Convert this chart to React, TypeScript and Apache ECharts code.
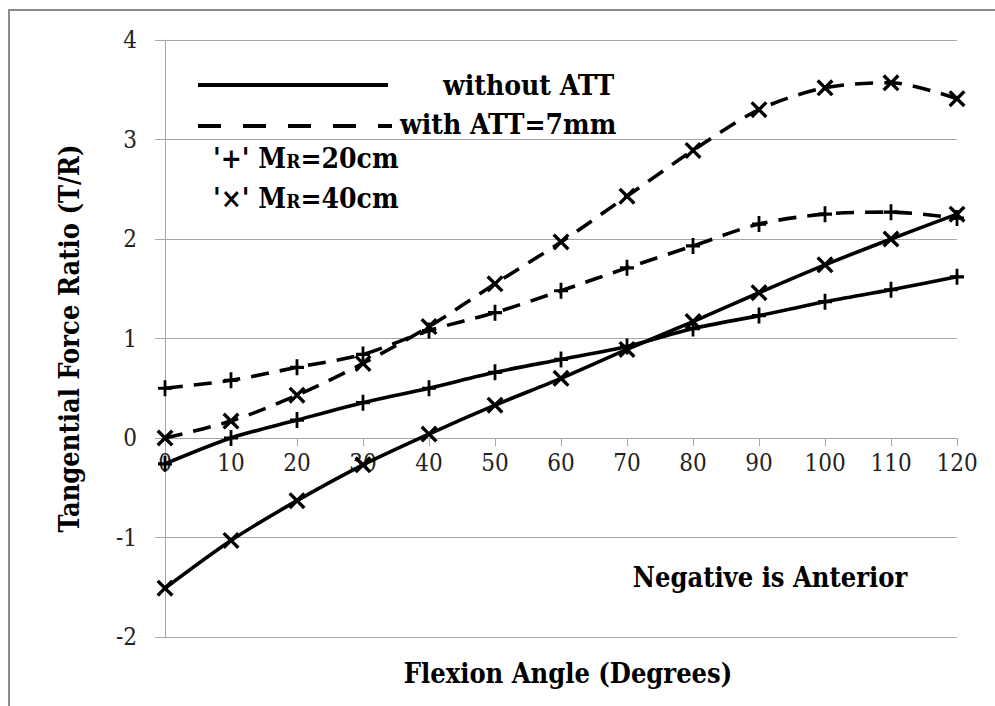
import React, { useEffect, useRef } from "react";
import * as echarts from "echarts";

const flexionAngles = [0, 10, 20, 30, 40, 50, 60, 70, 80, 90, 100, 110, 120];
const withoutAttMr20 = [-0.26, 0.0, 0.18, 0.355, 0.5, 0.66, 0.79, 0.92, 1.1, 1.23, 1.37, 1.49, 1.62];
const withoutAttMr40 = [-1.51, -1.03, -0.63, -0.27, 0.04, 0.33, 0.6, 0.89, 1.17, 1.46, 1.74, 2.0, 2.25];
const withAttMr20 = [0.5, 0.58, 0.71, 0.84, 1.08, 1.26, 1.48, 1.71, 1.93, 2.15, 2.25, 2.27, 2.21];
const withAttMr40 = [0.0, 0.17, 0.43, 0.75, 1.12, 1.55, 1.97, 2.43, 2.89, 3.3, 3.52, 3.57, 3.41];

const legendLines = ["without ATT", "with ATT=7mm"];
const legendMarkers = ["'+' M{s|R}=20cm", "'×' M{s|R}=40cm"];
const xAxisTitle = "Flexion Angle (Degrees)";
const yAxisTitle = "Tangential Force Ratio (T/R)";
const noteText = "Negative is Anterior";

const PLUS = "path://M4,0H6V4H10V6H6V10H4V6H0V4H4Z";
const CROSS =
  "path://M0,1.4L1.4,0L5,3.6L8.6,0L10,1.4L6.4,5L10,8.6L8.6,10L5,6.4L1.4,10L0,8.6L3.6,5Z";

const FONT = "DejaVu Serif Condensed, DejaVu Serif";
const LEGEND_SIZE = 28;
const TITLE_SIZE = 27;
const TICK_SIZE = 24;
const GRID = "#a6a6a6";

function pairs(ys: number[]) {
  return flexionAngles.map((x, i) => [x, ys[i]]);
}

export default function App() {
  const ref = useRef<HTMLDivElement>(null);
  useEffect(() => {
    if (!ref.current) return;
    const chart = echarts.init(ref.current, undefined, { renderer: "svg" });
    const mkSeries = (name: string, ys: number[], dashed: boolean, sym: string, size: number[]) => ({
      name,
      type: "line",
      data: pairs(ys),
      smooth: 0.3,
      symbol: sym,
      symbolSize: size,
      showSymbol: true,
      itemStyle: { color: "#000" },
      lineStyle: { color: "#000", width: 3.6, type: dashed ? [18, 11] : "solid" },
      z: 3,
    });
    const legendText = { fontFamily: FONT, fontWeight: "bold", fontSize: LEGEND_SIZE, fill: "#000" };
    const titleText = { fontFamily: FONT, fontWeight: "bold", fontSize: TITLE_SIZE, fill: "#000" };
    const richS = {
      s: { fontFamily: FONT, fontWeight: "bold", fontSize: 19, fill: "#000", padding: [5, 0, 0, 0] },
    };
    chart.setOption({
      animation: false,
      backgroundColor: "#fff",
      textStyle: { fontFamily: FONT },
      grid: { left: 165, right: 38, top: 40, bottom: 69 },
      xAxis: {
        type: "value",
        min: 0,
        max: 120,
        interval: 10,
        offset: -199,
        axisLine: { show: true, onZero: false, lineStyle: { color: GRID, width: 1 } },
        axisTick: { show: true, length: 8, lineStyle: { color: GRID } },
        axisLabel: { fontFamily: FONT, fontSize: TICK_SIZE, color: "#222", margin: 13 },
        splitLine: { show: false },
      },
      yAxis: {
        type: "value",
        min: -2,
        max: 4,
        interval: 1,
        name: yAxisTitle,
        nameLocation: "middle",
        nameGap: 82,
        nameTextStyle: { fontFamily: FONT, fontWeight: "bold", fontSize: TITLE_SIZE, color: "#000" },
        axisLine: { show: true, lineStyle: { color: GRID, width: 1 } },
        axisTick: { show: true, length: 10, lineStyle: { color: GRID } },
        axisLabel: { fontFamily: FONT, fontSize: TICK_SIZE, color: "#222", margin: 28 },
        splitLine: { show: true, lineStyle: { color: GRID, width: 1 } },
      },
      series: [
        mkSeries("without ATT, MR=20cm", withoutAttMr20, false, PLUS, [14, 16]),
        mkSeries("without ATT, MR=40cm", withoutAttMr40, false, CROSS, [17, 17]),
        mkSeries("with ATT=7mm, MR=20cm", withAttMr20, true, PLUS, [14, 16]),
        mkSeries("with ATT=7mm, MR=40cm", withAttMr40, true, CROSS, [17, 17]),
      ],
      graphic: [
        {
          type: "rect",
          shape: { x: 9, y: 10, width: 1000, height: 720 },
          style: { fill: "none", stroke: "#8c8c8c", lineWidth: 2 },
          silent: true,
        },
        {
          type: "line",
          shape: { x1: 198, y1: 85, x2: 388, y2: 85 },
          style: { stroke: "#000", lineWidth: 4 },
        },
        {
          type: "line",
          shape: { x1: 198, y1: 126, x2: 392, y2: 126 },
          style: { stroke: "#000", lineWidth: 4, lineDash: [23, 22] },
        },
        {
          type: "text",
          x: 443,
          y: 85,
          style: { ...legendText, text: legendLines[0], verticalAlign: "middle" },
        },
        {
          type: "text",
          x: 400,
          y: 124,
          style: { ...legendText, text: legendLines[1], verticalAlign: "middle" },
        },
        {
          type: "text",
          x: 213,
          y: 158,
          style: { ...legendText, text: legendMarkers[0], verticalAlign: "middle", rich: richS },
        },
        {
          type: "text",
          x: 213,
          y: 198,
          style: { ...legendText, text: legendMarkers[1], verticalAlign: "middle", rich: richS },
        },
        {
          type: "text",
          x: 770,
          y: 577,
          style: { ...titleText, text: noteText, align: "center", verticalAlign: "middle" },
        },
        {
          type: "text",
          x: 568,
          y: 673,
          style: { ...titleText, text: xAxisTitle, align: "center", verticalAlign: "middle" },
        },
      ],
    });
    return () => chart.dispose();
  }, []);
  return (
    <div
      ref={ref}
      style={{ position: "fixed", left: 0, top: 0, width: 995, height: 706, background: "#fff" }}
    />
  );
}
